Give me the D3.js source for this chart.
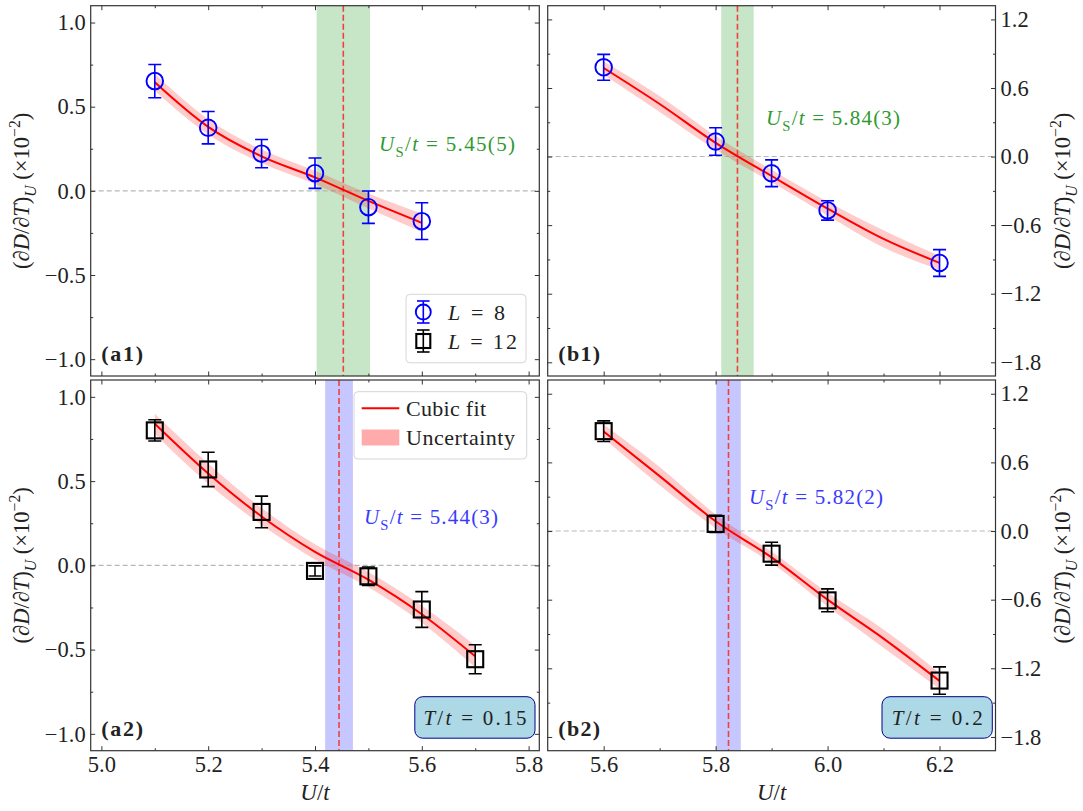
<!DOCTYPE html>
<html><head><meta charset="utf-8">
<script src="https://cdn.jsdelivr.net/npm/d3@7"></script>
<style>
body{margin:0;background:#fff}
text{fill:#222;font-family:'Liberation Serif',serif}
</style>
</head><body>
<svg id="c" width="1083" height="811"></svg>
<script>
// ---------------- data ----------------
const xLeftData  = [5.1, 5.2, 5.3, 5.4, 5.5, 5.6];
const xA2Data    = [5.1, 5.2, 5.3, 5.4, 5.5, 5.6, 5.7];
const xRightData = [5.6, 5.8, 5.9, 6.0, 6.2];

const yA1 = [0.652, 0.375, 0.221, 0.105, -0.097, -0.180];
const eA1 = [0.099, 0.096, 0.084, 0.090, 0.096, 0.109];
const yB1 = [0.781, 0.132, -0.146, -0.471, -0.931];
const eB1 = [0.113, 0.120, 0.117, 0.085, 0.117];
const yA2 = [0.801, 0.569, 0.317, -0.033, -0.065, -0.262, -0.557];
const eA2 = [0.063, 0.102, 0.094, 0.030, 0.055, 0.106, 0.086];
const yB2 = [0.873, 0.062, -0.198, -0.606, -1.307];
const eB2 = [0.090, 0.075, 0.100, 0.100, 0.120];

// cubic fits
const xFitA1 = [5.1, 5.2, 5.3, 5.4, 5.5, 5.6];
const fitA1  = [0.645, 0.38, 0.205, 0.08, -0.06, -0.19];
const bandA1 = [0.05, 0.045, 0.04, 0.04, 0.045, 0.055];
const xFitB  = [5.6, 5.7, 5.8, 5.9, 6.0, 6.1, 6.2];
const fitB1  = [0.775, 0.46, 0.12, -0.17, -0.455, -0.72, -0.93];
const bandB1 = [0.06, 0.07, 0.06, 0.055, 0.06, 0.075, 0.06];
const xFitA2 = [5.1, 5.2, 5.3, 5.4, 5.5, 5.6, 5.7];
const fitA2  = [0.84, 0.545, 0.29, 0.08, -0.085, -0.29, -0.54];
const bandA2 = [0.06, 0.06, 0.05, 0.045, 0.045, 0.05, 0.065];
const fitB2  = [0.87, 0.48, 0.085, -0.23, -0.6, -0.94, -1.31];
const bandB2 = [0.06, 0.08, 0.06, 0.05, 0.06, 0.08, 0.07];

// critical values
const usValues = [5.453, 5.839, 5.445, 5.823];
const usErrors = [0.050, 0.029, 0.026, 0.022];
const usLabels = ["5.45(5)", "5.84(3)", "5.44(3)", "5.82(2)"];
const tLabels  = ["0.15", "0.2"];
const panelNames = ["(a1)", "(b1)", "(a2)", "(b2)"];

// ticks
const xMajorLeft = [5.0, 5.2, 5.4, 5.6, 5.8];
const xMinorLeft = [5.1, 5.3, 5.5, 5.7];
const xMajorRight = [5.6, 5.8, 6.0, 6.2];
const xMinorRight = [5.7, 5.9, 6.1];
const yMajorLeft = [-1.0, -0.5, 0.0, 0.5, 1.0];
const yMinorLeft = [-0.75, -0.25, 0.25, 0.75];
const yMajorRight = [-1.8, -1.2, -0.6, 0.0, 0.6, 1.2];
const yMinorRight = [-1.5, -0.9, -0.3, 0.3, 0.9];

// ---------------- layout ----------------
const svg = d3.select("#c");
const colX = [[90.7, 539.3], [547.7, 995.5]];
const rowY = [[5.7, 376], [380, 750.7]];
const FS = 21;
const TFS = 22.5;
const FONT = "'Liberation Serif', serif";

function rich(sel, parts, size) {
  let shift = 0;
  parts.forEach(p => {
    const ts = sel.append("tspan").text(p.t);
    if (p.i) ts.attr("font-style", "italic");
    const target = p.sub ? size * 0.3 : p.sup ? -size * 0.42 : 0;
    if (target !== shift) { ts.attr("dy", target - shift); shift = target; }
    if (p.sub || p.sup) ts.attr("font-size", size * 0.7);
  });
  return sel;
}

const panels = [
  {col:0,row:0,xd:[4.98,5.82],yd:[-1.1,1.1],xs:xLeftData,ys:yA1,es:eA1,marker:"circle",color:"#0000ff",
   fx:xFitA1,fy:fitA1,fb:bandA1,band:"rgba(0,140,0,0.22)",txt:"#2f9a2f",tx:379,ty:151,tw:136},
  {col:1,row:0,xd:[5.5,6.3],yd:[-1.92,1.32],xs:xRightData,ys:yB1,es:eB1,marker:"circle",color:"#0000ff",
   fx:xFitB,fy:fitB1,fb:bandB1,band:"rgba(0,140,0,0.22)",txt:"#2f9a2f",tx:766,ty:125,tw:134},
  {col:0,row:1,xd:[4.98,5.82],yd:[-1.1,1.1],xs:xA2Data,ys:yA2,es:eA2,marker:"square",color:"#000000",
   fx:xFitA2,fy:fitA2,fb:bandA2,band:"rgba(40,40,255,0.26)",txt:"#3a3aff",tx:364,ty:524,tw:134},
  {col:1,row:1,xd:[5.5,6.3],yd:[-1.92,1.32],xs:xRightData,ys:yB2,es:eB2,marker:"square",color:"#000000",
   fx:xFitB,fy:fitB2,fb:bandB2,band:"rgba(40,40,255,0.26)",txt:"#3a3aff",tx:749,ty:504,tw:134}
];

panels.forEach((p, idx) => {
  const [L, R] = colX[p.col], [T, B] = rowY[p.row];
  const x = d3.scaleLinear().domain(p.xd).range([L, R]);
  const y = d3.scaleLinear().domain(p.yd).range([B, T]);
  const g = svg.append("g").style("font-family", FONT);
  const cid = "clip" + idx;
  g.append("clipPath").attr("id", cid).append("rect").attr("x", L).attr("y", T).attr("width", R - L).attr("height", B - T);
  const pg = g.append("g").attr("clip-path", `url(#${cid})`);

  // critical-point band
  pg.append("rect").attr("x", x(usValues[idx] - usErrors[idx])).attr("y", T)
    .attr("width", x(usValues[idx] + usErrors[idx]) - x(usValues[idx] - usErrors[idx]))
    .attr("height", B - T).attr("fill", p.band);
  // zero reference line
  pg.append("line").attr("x1", L).attr("x2", R).attr("y1", y(0)).attr("y2", y(0))
    .attr("stroke", "#b8b8b8").attr("stroke-width", 1.1).attr("stroke-dasharray", "5,3");
  // uncertainty band of the fit
  const fitPts = p.fx.map((v, i) => ({x: v, y: p.fy[i], b: p.fb[i]}));
  pg.append("path").datum(fitPts)
    .attr("d", d3.area().x(d => x(d.x)).y0(d => y(d.y - d.b)).y1(d => y(d.y + d.b)).curve(d3.curveMonotoneX))
    .attr("fill", "rgba(255,0,0,0.2)");
  // vertical dashed line at U_S
  pg.append("line").attr("x1", x(usValues[idx])).attr("x2", x(usValues[idx])).attr("y1", T).attr("y2", B)
    .attr("stroke", "#f04040").attr("stroke-width", 1.6).attr("stroke-dasharray", "6,3");
  // fit line
  pg.append("path").datum(fitPts)
    .attr("d", d3.line().x(d => x(d.x)).y(d => y(d.y)).curve(d3.curveMonotoneX))
    .attr("fill", "none").attr("stroke", "#ff0000").attr("stroke-width", 2);

  // data points with error bars
  const pts = p.xs.map((v, i) => ({x: v, y: p.ys[i], e: p.es[i]}));
  const eg = pg.append("g").attr("stroke", p.color).attr("stroke-width", 1.6).attr("fill", "none");
  pts.forEach(d => {
    const cx = x(d.x);
    eg.append("line").attr("x1", cx).attr("x2", cx).attr("y1", y(d.y - d.e)).attr("y2", y(d.y + d.e));
    eg.append("line").attr("x1", cx - 6.5).attr("x2", cx + 6.5).attr("y1", y(d.y - d.e)).attr("y2", y(d.y - d.e));
    eg.append("line").attr("x1", cx - 6.5).attr("x2", cx + 6.5).attr("y1", y(d.y + d.e)).attr("y2", y(d.y + d.e));
    if (p.marker === "circle")
      eg.append("circle").attr("cx", cx).attr("cy", y(d.y)).attr("r", 8.3).attr("stroke-width", 1.9);
    else
      eg.append("rect").attr("x", cx - 8).attr("y", y(d.y) - 8).attr("width", 16).attr("height", 16).attr("stroke-width", 2.1);
  });

  // frame
  g.append("rect").attr("x", L).attr("y", T).attr("width", R - L).attr("height", B - T)
    .attr("fill", "none").attr("stroke", "#333").attr("stroke-width", 1.2);

  // axes: inward ticks on all four sides
  const xMaj = p.col === 0 ? xMajorLeft : xMajorRight;
  const xMin = p.col === 0 ? xMinorLeft : xMinorRight;
  const yMaj = p.col === 0 ? yMajorLeft : yMajorRight;
  const yMin = p.col === 0 ? yMinorLeft : yMinorRight;
  const fmt = d3.format(".1f");
  const style = s => { s.select(".domain").remove(); s.selectAll("line").attr("stroke", "#333").attr("stroke-width", 1);
    s.attr("font-family", null);
    s.selectAll("text").attr("font-size", TFS).style("font-family", FONT).attr("fill", "#222"); };

  g.append("g").attr("transform", `translate(0,${B})`)
    .call(d3.axisBottom(x).tickValues(xMaj).tickSize(-4.5).tickPadding(5).tickFormat(p.row === 1 ? fmt : () => "")).call(style);
  g.append("g").attr("transform", `translate(0,${B})`)
    .call(d3.axisBottom(x).tickValues(xMin).tickSize(-2.5).tickFormat(() => "")).call(style);
  g.append("g").attr("transform", `translate(0,${T})`)
    .call(d3.axisTop(x).tickValues(xMaj).tickSize(-4.5).tickFormat(() => "")).call(style);
  g.append("g").attr("transform", `translate(0,${T})`)
    .call(d3.axisTop(x).tickValues(xMin).tickSize(-2.5).tickFormat(() => "")).call(style);
  g.append("g").attr("transform", `translate(${L},0)`)
    .call(d3.axisLeft(y).tickValues(yMaj).tickSize(-4.5).tickPadding(5).tickFormat(p.col === 0 ? fmt : () => "")).call(style);
  g.append("g").attr("transform", `translate(${L},0)`)
    .call(d3.axisLeft(y).tickValues(yMin).tickSize(-2.5).tickFormat(() => "")).call(style);
  g.append("g").attr("transform", `translate(${R},0)`)
    .call(d3.axisRight(y).tickValues(yMaj).tickSize(-4.5).tickPadding(5).tickFormat(p.col === 1 ? fmt : () => "")).call(style);
  g.append("g").attr("transform", `translate(${R},0)`)
    .call(d3.axisRight(y).tickValues(yMin).tickSize(-2.5).tickFormat(() => "")).call(style);

  // U_S annotation
  rich(g.append("text").attr("x", p.tx).attr("y", p.ty).attr("font-size", FS).style("fill", p.txt)
      .attr("textLength", p.tw).attr("lengthAdjust", "spacing"),
    [{t:"U",i:true},{t:"S",sub:true},{t:"/"},{t:"t",i:true},{t:" = " + usLabels[idx]}], FS);

  // panel label
  g.append("text").attr("x", L + 10.5).attr("y", B - 15).attr("font-size", 22).attr("font-weight", "bold")
    .attr("textLength", 42).attr("lengthAdjust", "spacing").text(panelNames[idx]);

  // y-axis label
  const ylx = p.col === 0 ? 29 : 1070;
  const yc = (T + B) / 2;
  rich(g.append("text").attr("transform", `translate(${ylx},${yc}) rotate(-90)`).attr("text-anchor", "middle").attr("font-size", 22.5),
    [{t:"(∂"},{t:"D",i:true},{t:"/∂"},{t:"T",i:true},{t:")"},{t:"U",i:true,sub:true},{t:" (×10"},{t:"−2",sup:true},{t:")"}], 22.5);

  // x-axis label
  if (p.row === 1)
    rich(g.append("text").attr("x", (L + R) / 2).attr("y", 800).attr("text-anchor", "middle").attr("font-size", 23),
      [{t:"U",i:true},{t:"/"},{t:"t",i:true}], 23);

  // temperature box
  if (p.row === 1) {
    const bx0 = p.col === 0 ? 414.8 : 882, bx1 = p.col === 0 ? 535 : 992.3;
    g.append("rect").attr("x", bx0).attr("y", 696.7).attr("width", bx1 - bx0).attr("height", 41.5)
      .attr("rx", 8).attr("fill", "#add8e6").attr("stroke", "#00008b").attr("stroke-width", 1);
    rich(g.append("text").attr("x", (bx0 + bx1) / 2).attr("y", 724.5).attr("text-anchor", "middle").attr("font-size", FS)
        .attr("textLength", p.col === 0 ? 103 : 91).attr("lengthAdjust", "spacing"),
      [{t:"T",i:true},{t:"/"},{t:"t",i:true},{t:" = " + tLabels[p.col]}], FS);
  }
});

// legend for the data series (a1)
{
  const lg = svg.append("g").style("font-family", FONT);
  lg.append("rect").attr("x", 406).attr("y", 294.3).attr("width", 120).attr("height", 68.5).attr("rx", 4)
    .attr("fill", "rgba(255,255,255,0.85)").attr("stroke", "#d6d6d6").attr("stroke-width", 1);
  const items = [{c:"#0000ff", m:"circle", lbl:"8", y:312, w:57}, {c:"#000", m:"square", lbl:"12", y:341, w:69}];
  items.forEach(it => {
    const gg = lg.append("g").attr("stroke", it.c).attr("fill", "none").attr("stroke-width", 1.6);
    gg.append("line").attr("x1", 423.3).attr("x2", 423.3).attr("y1", it.y - 11).attr("y2", it.y + 11);
    gg.append("line").attr("x1", 417).attr("x2", 429.6).attr("y1", it.y - 11).attr("y2", it.y - 11);
    gg.append("line").attr("x1", 417).attr("x2", 429.6).attr("y1", it.y + 11).attr("y2", it.y + 11);
    if (it.m === "circle") gg.append("circle").attr("cx", 423.3).attr("cy", it.y).attr("r", 7.5).attr("stroke-width", 1.9);
    else gg.append("rect").attr("x", 416.3).attr("y", it.y - 7).attr("width", 14).attr("height", 14).attr("stroke-width", 2.1);
    rich(lg.append("text").attr("x", 448).attr("y", it.y + 7.5).attr("font-size", 22)
        .attr("textLength", it.w).attr("lengthAdjust", "spacing"),
      [{t:"L",i:true},{t:" = " + it.lbl}], 22);
  });
}
// legend for the fit (a2)
{
  const lg = svg.append("g").style("font-family", FONT);
  lg.append("rect").attr("x", 354).attr("y", 391.7).attr("width", 172.7).attr("height", 67.3).attr("rx", 4)
    .attr("fill", "rgba(255,255,255,0.85)").attr("stroke", "#d6d6d6").attr("stroke-width", 1);
  lg.append("line").attr("x1", 361.7).attr("x2", 399.3).attr("y1", 408.3).attr("y2", 408.3)
    .attr("stroke", "#ff0000").attr("stroke-width", 2);
  lg.append("rect").attr("x", 361.7).attr("y", 429.5).attr("width", 37.6).attr("height", 16)
    .attr("fill", "rgba(255,0,0,0.33)");
  lg.append("text").attr("x", 406).attr("y", 415.5).attr("font-size", 22).attr("textLength", 80).attr("lengthAdjust", "spacing").text("Cubic fit");
  lg.append("text").attr("x", 406).attr("y", 444.5).attr("font-size", 22).attr("textLength", 109).attr("lengthAdjust", "spacing").text("Uncertainty");
}
</script>
</body></html>
